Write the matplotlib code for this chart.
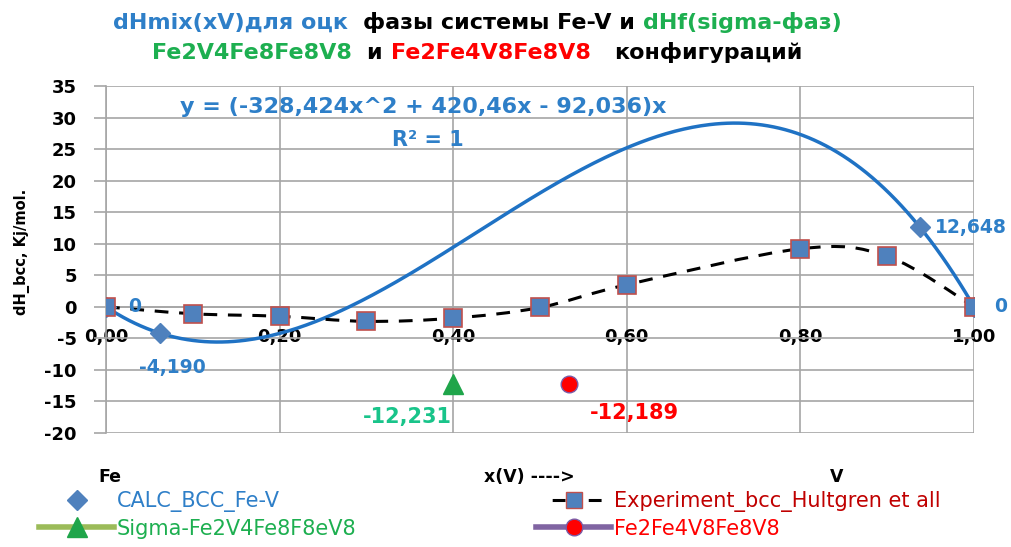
import numpy as np
import matplotlib
matplotlib.use("Agg")
import matplotlib.pyplot as plt
from matplotlib.path import Path
from matplotlib.patches import PathPatch
from matplotlib.lines import Line2D

plt.rcParams['font.family'] = ['DejaVu Sans']

W, H = 1012, 547

# CALC_BCC_Fe-V points (trend line is fitted through them)
calc_x = [0.0, 0.0625, 0.9375, 1.0]
calc_y = [0.0, -4.190, 12.648, 0.0]
calc_labels = ["0", "-4,190", "12,648", "0"]

# Experiment_bcc_Hultgren et all
exp_x = [0.0, 0.1, 0.2, 0.3, 0.4, 0.5, 0.6, 0.8, 0.9, 1.0]
exp_y = [0.0, -1.1, -1.5, -2.3, -1.8, -0.1, 3.5, 9.2, 8.0, 0.0]

# sigma phase configurations
sig1_x, sig1_y = [0.4], [-12.231]
sig2_x, sig2_y = [0.5333], [-12.189]
sig1_label = "-12,231"
sig2_label = "-12,189"

x_ticks = [0.0, 0.2, 0.4, 0.6, 0.8, 1.0]
x_tick_labels = ["0,00", "0,20", "0,40", "0,60", "0,80", "1,00"]
y_ticks = [-20, -15, -10, -5, 0, 5, 10, 15, 20, 25, 30, 35]

BLUE_LINE = '#1F72C4'
BLUE_TXT = '#2E7FC8'
GREEN_TXT = '#1DAF50'
MARK_BLUE = '#4F81BD'
EDGE_RED = '#C0504D'
GRID = '#A6A6A6'


def fx(px):
    return px / W


def fy(py):
    return 1 - py / H


def smooth_path(xs, ys):
    # Excel-like smoothed line: cubic bezier segments through the points
    pts = np.column_stack([xs, ys])
    n = len(pts)
    verts, codes = [pts[0]], [Path.MOVETO]
    for i in range(n - 1):
        p0, p1 = pts[max(i - 1, 0)], pts[i]
        p2, p3 = pts[i + 1], pts[min(i + 2, n - 1)]
        verts += [p1 + (p2 - p0) / 6, p2 - (p3 - p1) / 6, p2]
        codes += [Path.CURVE4] * 3
    return Path(verts, codes)


fig = plt.figure(figsize=(W / 100, H / 100), dpi=100)
ax = fig.add_axes([fx(106), fy(433), (974 - 106) / W, (433 - 86) / H])
ax.set_xlim(0, 1)
ax.set_ylim(-20, 35)

ax.set_xticks(x_ticks)
ax.set_xticklabels(x_tick_labels)
ax.set_yticks(y_ticks)
ax.set_yticklabels([str(t) for t in y_ticks])
ax.grid(True, color=GRID, lw=1.2)
ax.set_axisbelow(True)
for s in ['top', 'right']:
    ax.spines[s].set_visible(False)
ax.spines['left'].set_color(GRID)
ax.spines['left'].set_linewidth(1.2)
ax.spines['bottom'].set_position(('data', 0))
ax.spines['bottom'].set_color(GRID)
ax.spines['bottom'].set_linewidth(1.2)
ax.tick_params(axis='x', length=0, pad=15, labelsize=13)
ax.tick_params(axis='y', length=9, width=1.2, color=GRID, pad=12, labelsize=13)
for lab in ax.get_xticklabels() + ax.get_yticklabels():
    lab.set_fontweight('bold')

# trend line for CALC: y = (a x^2 + b x + c) x fitted to the points
cx = np.array(calc_x[1:])
cy = np.array(calc_y[1:])
coef = np.polyfit(cx, cy / cx, 2)
xs = np.linspace(0, 1, 300)
ax.plot(xs, np.polyval(coef, xs) * xs, color=BLUE_LINE, lw=2.5, zorder=3)

h_calc, = ax.plot(calc_x, calc_y, linestyle='none', marker='D', ms=10,
                  color=MARK_BLUE, zorder=4)

# experiment: smoothed dashed line + squares
ax.add_patch(PathPatch(smooth_path(exp_x, exp_y), fill=False, edgecolor='black',
                       lw=2.2, linestyle=(0, (4.5, 3.5)), zorder=3))
ax.plot(exp_x, exp_y, linestyle='none', marker='s', ms=13.5,
        markerfacecolor=MARK_BLUE, markeredgecolor=EDGE_RED, markeredgewidth=1.2, zorder=5)
h_exp = Line2D([], [], color='black', lw=2.2, linestyle=(6.5, (4.2, 7.6)), marker='s', ms=11.5,
               markerfacecolor=MARK_BLUE, markeredgecolor=EDGE_RED)

h_sig1, = ax.plot(sig1_x, sig1_y, color='#9BBB59', lw=4, marker='^', ms=15,
                  markerfacecolor='#1FA54A', markeredgecolor='#1FA54A', zorder=5)
h_sig2, = ax.plot(sig2_x, sig2_y, color='#8064A2', lw=4, marker='o', ms=12,
                  markerfacecolor='#FF0000', markeredgecolor='#7B5BA6', zorder=5)

# data labels (offsets in pixels)
calc_offsets = [(29, 0, 'center'), (12, 34, 'center'), (15, 0, 'left'), (27, 0, 'center')]
for x, y, t, (dx, dy, ha) in zip(calc_x, calc_y, calc_labels, calc_offsets):
    ax.annotate(t, (x, y), xytext=(dx * 0.72, -dy * 0.72), textcoords='offset points',
                ha=ha, va='center', fontsize=13.5, fontweight='bold', color=BLUE_TXT, zorder=6)
ax.annotate(sig1_label, (sig1_x[0], sig1_y[0]), xytext=(-46 * 0.72, -33 * 0.72),
            textcoords='offset points', ha='center', va='center', fontsize=15,
            fontweight='bold', color='#19C48A')
ax.annotate(sig2_label, (sig2_x[0], sig2_y[0]), xytext=(66 * 0.72, -29 * 0.72),
            textcoords='offset points', ha='center', va='center', fontsize=15,
            fontweight='bold', color='#FF0000')

# trend equation
fig.text(fx(180), fy(107), "y = (-328,424x^2 + 420,46x - 92,036)x",
         ha='left', va='center', fontsize=16, fontweight='bold', color=BLUE_TXT)
fig.text(fx(392), fy(140), "R² = 1",
         ha='left', va='center', fontsize=15, fontweight='bold', color=BLUE_TXT)

# title in colored parts, placed one after another, each line centered
title_lines = [
    (29, [("dHmix(xV)для оцк  ", BLUE_TXT), ("фазы системы Fe-V и ", 'black'),
          ("dHf(sigma-фаз)", GREEN_TXT)]),
    (59, [("Fe2V4Fe8Fe8V8  ", GREEN_TXT), ("и ", 'black'),
          ("Fe2Fe4V8Fe8V8   ", '#FF0000'), ("конфигураций", 'black')]),
]
renderer = fig.canvas.get_renderer()
for py, parts in title_lines:
    arts = [fig.text(0, fy(py), t, ha='left', va='baseline', fontsize=16,
                     fontweight='bold', color=c) for t, c in parts]
    widths = [a.get_window_extent(renderer).width for a in arts]
    x0 = 477 - sum(widths) / 2
    for a, w in zip(arts, widths):
        a.set_x(fx(x0))
        x0 += w

fig.text(fx(22), fy(252), "dH_bcc, Kj/mol.", rotation=90, ha='center', va='center',
         fontsize=10.5, fontweight='bold')

fig.text(fx(98), fy(477), "Fe", ha='left', va='center', fontsize=12.5, fontweight='bold')
fig.text(fx(484), fy(477), "x(V) ---->", ha='left', va='center', fontsize=12.5, fontweight='bold')
fig.text(fx(830), fy(477), "V", ha='left', va='center', fontsize=12.5, fontweight='bold')

# legend in two columns
leg_kw = dict(loc='upper left', frameon=False, fontsize=15, handlelength=3.6,
              handletextpad=0.15, labelspacing=0.32, borderpad=0, borderaxespad=0,
              numpoints=1)
leg1 = fig.legend([h_calc, h_sig1], ["CALC_BCC_Fe-V", "Sigma-Fe2V4Fe8F8eV8"],
                  bbox_to_anchor=(fx(39), fy(491)), **leg_kw)
for t, c in zip(leg1.get_texts(), [BLUE_TXT, GREEN_TXT]):
    t.set_color(c)
leg2 = fig.legend([h_exp, h_sig2], ["Experiment_bcc_Hultgren et all", "Fe2Fe4V8Fe8V8"],
                  bbox_to_anchor=(fx(536), fy(491)), **leg_kw)
for t, c in zip(leg2.get_texts(), ['#C00000', '#FF0000']):
    t.set_color(c)

fig.savefig("out.png", dpi=100)
